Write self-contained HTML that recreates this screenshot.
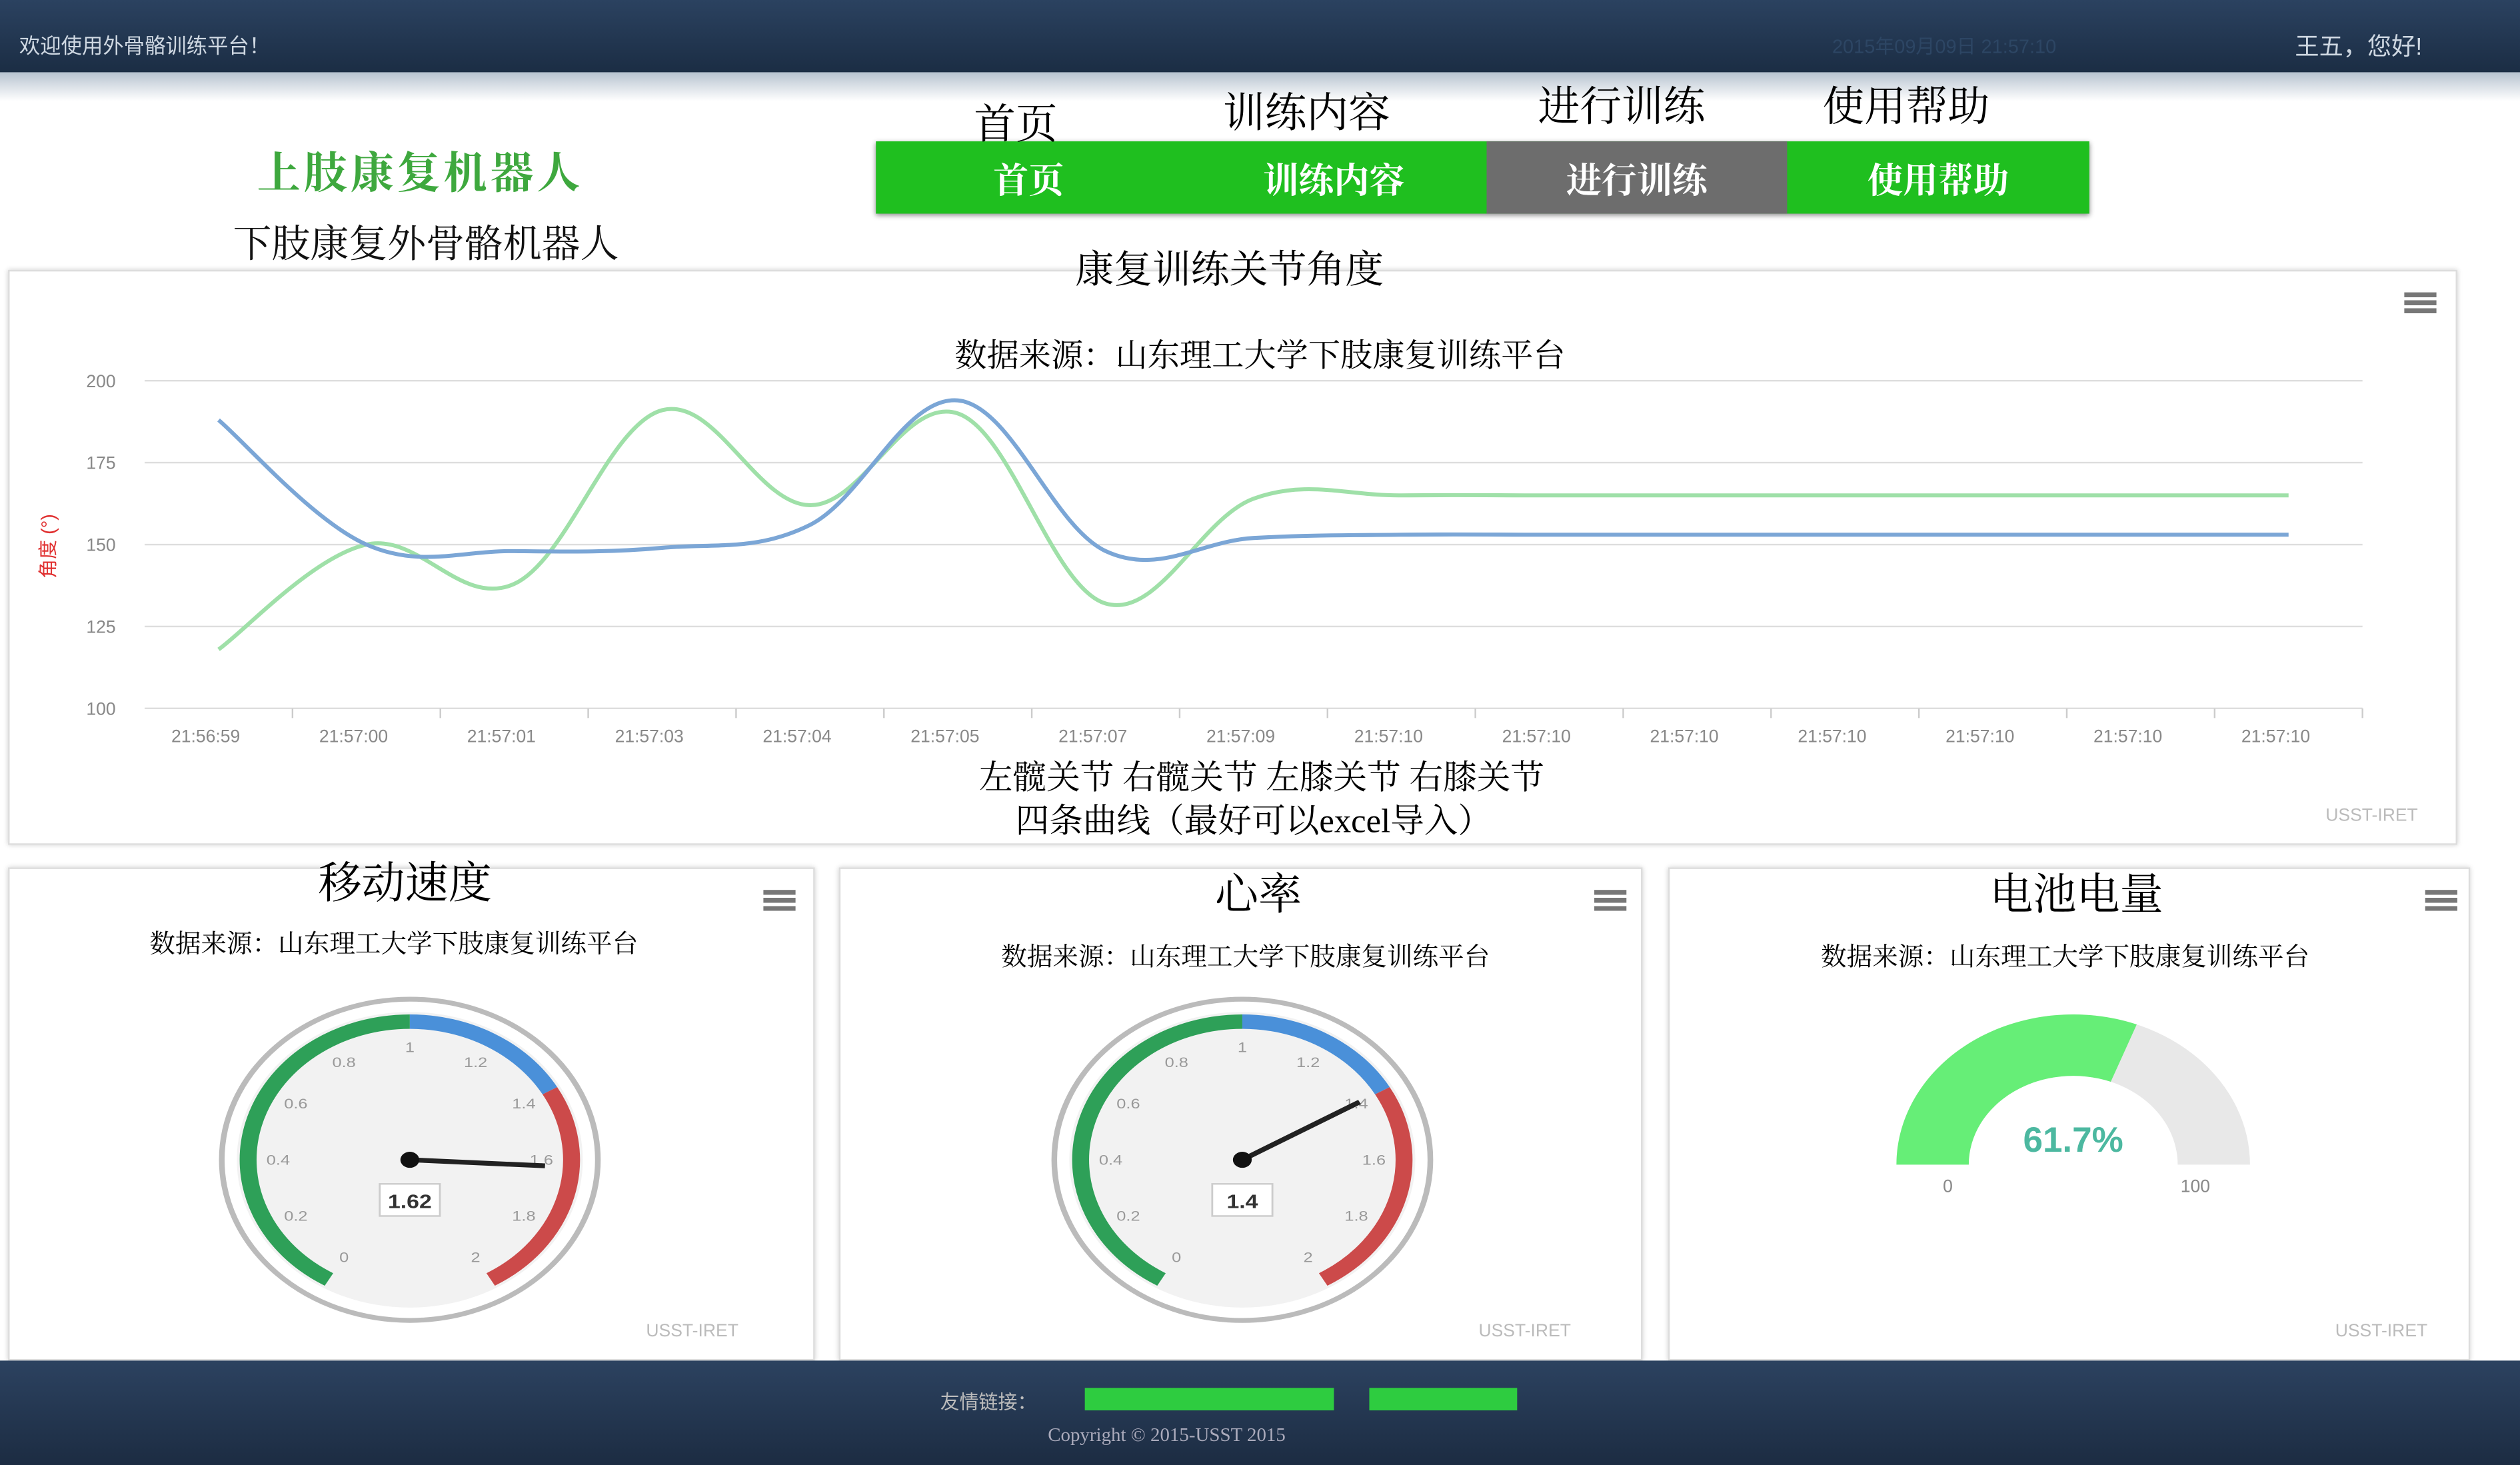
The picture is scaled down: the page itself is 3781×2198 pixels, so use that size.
<!DOCTYPE html>
<html><head><meta charset="utf-8"><style>
html,body{margin:0;padding:0;background:#fff;overflow:hidden}
body{width:3781px;height:2198px}
#w{position:absolute;left:0;top:0;width:1568px;height:912px;transform-origin:0 0;transform:scale(2.41135,2.41009);font-family:"Liberation Serif","Noto Serif CJK SC",serif}
.a{position:absolute;white-space:nowrap}
.panel{position:absolute;background:#fff;border:1px solid #ddd;box-shadow:0 0 3px #ccc}
.menu{position:absolute;width:20px;height:14px;background:repeating-linear-gradient(#777 0 3px,#fff 3px 5px)}
.cred{position:absolute;font:11px "Liberation Sans",sans-serif;color:#bbb}
</style></head><body>
<div id="w">
<div class="a" style="left:0;top:0;width:1568px;height:45px;background:linear-gradient(#2b4260,#1b2d44)"></div>
<div class="a" style="left:0;top:45px;width:1568px;height:18px;background:linear-gradient(#b7c3d0,#fff)"></div>
<div class="a" style="left:12px;top:18px;font:13px 'Liberation Sans','Noto Sans CJK SC',sans-serif;color:#cfd8e2">欢迎使用外骨骼训练平台！</div>
<div class="a" style="left:1140px;top:20px;font:12px 'Liberation Sans','Noto Sans CJK SC',sans-serif;color:#2d4664">2015年09月09日 21:57:10</div>
<div class="a" style="left:1428px;top:18px;font:15px 'Liberation Sans','Noto Sans CJK SC',sans-serif;color:#cfd8e2">王五，您好!</div>
<div class="a" style="left:160px;top:86px;font:bold 27px 'Noto Serif CJK SC',serif;color:#3ea83e;letter-spacing:2px">上肢康复机器人</div>
<div class="a" style="left:145px;top:132px;font:24px 'Liberation Serif','Noto Serif CJK SC',serif;color:#111">下肢康复外骨骼机器人</div>
<div class="a" style="left:545px;top:88px;width:755px;height:45px;background:#1fbf1f;box-shadow:0 1px 3px #888"></div>
<div class="a" style="left:925px;top:88px;width:187px;height:45px;background:#6d6d6d"></div>
<div class="a" style="left:545px;top:96px;width:190px;text-align:center;font:bold 22px 'Noto Serif CJK SC',serif;color:#fff">首页</div>
<div class="a" style="left:735px;top:96px;width:190px;text-align:center;font:bold 22px 'Noto Serif CJK SC',serif;color:#fff">训练内容</div>
<div class="a" style="left:925px;top:96px;width:187px;text-align:center;font:bold 22px 'Noto Serif CJK SC',serif;color:#fff">进行训练</div>
<div class="a" style="left:1112px;top:96px;width:188px;text-align:center;font:bold 22px 'Noto Serif CJK SC',serif;color:#fff">使用帮助</div>
<div class="a" style="left:606px;top:57px;font:26px 'Liberation Serif','Noto Serif CJK SC',serif">首页</div>
<div class="a" style="left:761px;top:50px;font:26px 'Liberation Serif','Noto Serif CJK SC',serif">训练内容</div>
<div class="a" style="left:957px;top:46px;font:26px 'Liberation Serif','Noto Serif CJK SC',serif">进行训练</div>
<div class="a" style="left:1134px;top:46px;font:26px 'Liberation Serif','Noto Serif CJK SC',serif">使用帮助</div>

<div class="panel" style="left:5px;top:168px;width:1522px;height:356px"></div>
<div class="menu" style="left:1496px;top:182px"></div>
<div class="a" style="left:0;top:148px;width:1530px;text-align:center;font:24px 'Liberation Serif','Noto Serif CJK SC',serif">康复训练关节角度</div>
<div class="a" style="left:0;top:205px;width:1568px;text-align:center;font:20px 'Liberation Serif','Noto Serif CJK SC',serif">数据来源：山东理工大学下肢康复训练平台</div>
<svg class="a" id="chart" style="left:0;top:0" width="1568" height="540"></svg>
<div class="a" style="left:0;top:468px;width:1570px;text-align:center;font:21px 'Liberation Serif','Noto Serif CJK SC',serif">左髋关节 右髋关节 左膝关节 右膝关节</div>
<div class="a" style="left:0;top:495px;width:1560px;text-align:center;font:21px 'Liberation Serif','Noto Serif CJK SC',serif">四条曲线（最好可以excel导入）</div>
<div class="cred" style="left:1447px;top:502px">USST-IRET</div>

<div class="panel" style="left:5px;top:540px;width:500px;height:305px"></div>
<div class="panel" style="left:522px;top:540px;width:498px;height:305px"></div>
<div class="panel" style="left:1038px;top:540px;width:497px;height:305px"></div>
<div class="menu" style="left:475px;top:554px"></div>
<div class="menu" style="left:992px;top:554px"></div>
<div class="menu" style="left:1509px;top:554px"></div>
<div class="a" style="left:198px;top:528px;font:27px 'Liberation Serif','Noto Serif CJK SC',serif">移动速度</div>
<div class="a" style="left:756px;top:535px;font:27px 'Liberation Serif','Noto Serif CJK SC',serif">心率</div>
<div class="a" style="left:1238px;top:535px;font:27px 'Liberation Serif','Noto Serif CJK SC',serif">电池电量</div>
<div class="a" style="left:93px;top:575px;font:16px 'Liberation Serif','Noto Serif CJK SC',serif">数据来源：山东理工大学下肢康复训练平台</div>
<div class="a" style="left:623px;top:583px;font:16px 'Liberation Serif','Noto Serif CJK SC',serif">数据来源：山东理工大学下肢康复训练平台</div>
<div class="a" style="left:1133px;top:583px;font:16px 'Liberation Serif','Noto Serif CJK SC',serif">数据来源：山东理工大学下肢康复训练平台</div>
<svg class="a" id="g" style="left:0;top:0" width="1568" height="912"></svg>
<div class="cred" style="left:402px;top:823px">USST-IRET</div>
<div class="cred" style="left:920px;top:823px">USST-IRET</div>
<div class="cred" style="left:1453px;top:823px">USST-IRET</div>

<div class="a" style="left:0;top:847px;width:1568px;height:65px;background:linear-gradient(#2c4260,#1c2c42)"></div>
<div class="a" style="left:585px;top:864px;font:12px 'Liberation Sans','Noto Sans CJK SC',sans-serif;color:#bbb">友情链接：</div>
<div class="a" style="left:675px;top:864px;width:155px;height:14px;background:#2ecc40"></div>
<div class="a" style="left:852px;top:864px;width:92px;height:14px;background:#2ecc40"></div>
<div class="a" style="left:652px;top:886px;font:12px 'Liberation Serif',serif;color:#aab">Copyright © 2015-USST 2015</div>
</div>
<script>
const NS='http://www.w3.org/2000/svg';
const categories=['21:56:59','21:57:00','21:57:01','21:57:03','21:57:04','21:57:05','21:57:07','21:57:09','21:57:10','21:57:10','21:57:10','21:57:10','21:57:10','21:57:10','21:57:10'];
const blueValues=[188,150,148,149,156,194,148,152,153,153,153,153,153,153,153];
const greenValues=[118,150,138,191,162,190,132,164,165,165,165,165,165,165,165];
const yTicks=[100,125,150,175,200];
function mk(t,at,p){const e=document.createElementNS(NS,t);for(const k in at)e.setAttribute(k,at[k]);(p||document.getElementById('chart')).appendChild(e);return e;}
const X=i=>136+i*92, Y=v=>441-(v-100)*2.04;
const c=document.getElementById('chart');
yTicks.forEach(v=>{
 const l=mk('line',{x1:90,x2:1470,y1:Y(v),y2:Y(v),stroke:'#ddd','stroke-width':1});
 
 
 const t=mk('text',{x:72,y:Y(v)+4,'text-anchor':'end','font-size':11,fill:'#888','font-family':'Liberation Sans'});
 t.textContent=v;
 
 
});
categories.forEach((s,i)=>{
 const tk=mk('line',{x1:X(i)+46,x2:X(i)+46,y1:441,y2:447,stroke:'#ccc'});
 
 
 const t=mk('text',{x:X(i)-8,y:462,'text-anchor':'middle','font-size':11,fill:'#888','font-family':'Liberation Sans'});
 t.textContent=s;
 
 
});
const yt=mk('text',{x:34,y:340,'text-anchor':'middle','font-size':12,fill:'#e03030',transform:'rotate(-90 34 340)','font-family':'Liberation Sans,Noto Sans CJK SC'});
yt.textContent='角度 (°)';


function path(vals){const p=vals.map((v,i)=>[X(i),Y(v)]);let d='M'+p[0];for(let i=0;i<p.length-1;i++){const a=p[i-1]||p[i],b=p[i],e=p[i+1],f=p[i+2]||e;const t=0.18;d+=` C${b[0]+(e[0]-a[0])*t},${b[1]+(e[1]-a[1])*t} ${e[0]-(f[0]-b[0])*t},${e[1]-(f[1]-b[1])*t} ${e[0]},${e[1]}`;}return d;}
const gl=mk('path',{d:path(greenValues),fill:'none',stroke:'#9fe0a8','stroke-width':2.5});


const bl=mk('path',{d:path(blueValues),fill:'none',stroke:'#7ba6d6','stroke-width':2.5});



// gauges
const speedValue=[1.62];
const heartValue=[1.4];
const batteryValue=[61.7];
const g=document.getElementById('g');
function gauge(cx,cy,val,name){
 const grp=mk('g',{transform:`translate(${cx},${cy}) scale(1.17,1)`},g);
 
 
 mk('circle',{r:100,fill:'#fff',stroke:'#bbb','stroke-width':3},grp);
 mk('circle',{r:92,fill:'#f2f2f2'},grp);
 const ang=v=>(-150+v*150)*Math.PI/180;
 const arc=(a,b,col)=>{const r=86;const p1=[r*Math.sin(ang(a)),-r*Math.cos(ang(a))],p2=[r*Math.sin(ang(b)),-r*Math.cos(ang(b))];mk('path',{d:`M${p1} A${r},${r} 0 ${(b-a)*150>180?1:0} 1 ${p2}`,fill:'none',stroke:col,'stroke-width':9},grp);};
 arc(0,1,'#2ea058');arc(1,1.4,'#4a90d9');arc(1.4,2,'#cc4a4a');
 [0,0.2,0.4,0.6,0.8,1,1.2,1.4,1.6,1.8,2].forEach(v=>{const a=ang(v);const t=mk('text',{x:70*Math.sin(a),y:-70*Math.cos(a)+3,'text-anchor':'middle','font-size':9,fill:'#999','font-family':'Liberation Sans'},grp);t.textContent=v;});
 const a=ang(val);
 mk('line',{x1:0,y1:0,x2:72*Math.sin(a),y2:-72*Math.cos(a),stroke:'#222','stroke-width':3},grp);
 mk('circle',{r:5,fill:'#111'},grp);
 mk('rect',{x:-16,y:15,width:32,height:20,fill:'#fff',stroke:'#ccc'},grp);
 const t=mk('text',{x:0,y:30,'text-anchor':'middle','font-size':12,'font-weight':'bold',fill:'#333','font-family':'Liberation Sans'},grp);t.textContent=val;
}
gauge(255,722,speedValue[0],'speed-gauge');
gauge(773,722,heartValue[0],'heart-gauge');
const bx=1290,by=725,R=110,r=65;
const bg=mk('path',{d:`M${bx-R},${by} A${R},${R*0.85} 0 0 1 ${bx+R},${by} L${bx+r},${by} A${r},${r*0.85} 0 0 0 ${bx-r},${by}Z`,fill:'#e8e8e8'},g);


const th=Math.PI*(1-batteryValue[0]/100);
const fg=mk('path',{d:`M${bx-R},${by} A${R},${R*0.85} 0 0 1 ${bx+R*Math.cos(th)},${by-R*0.85*Math.sin(th)} L${bx+r*Math.cos(th)},${by-r*0.85*Math.sin(th)} A${r},${r*0.85} 0 0 0 ${bx-r},${by}Z`,fill:'#66ee77'},g);


const bt=mk('text',{x:bx,y:by-8,'text-anchor':'middle','font-size':22,'font-weight':'bold',fill:'#4cb8a0','font-family':'Liberation Sans'},g);
bt.textContent=batteryValue[0]+'%';


[['0',bx-78],['100',bx+76]].forEach(([s,x])=>{const t=mk('text',{x:x,y:by+17,'text-anchor':'middle','font-size':11,fill:'#888','font-family':'Liberation Sans'},g);t.textContent=s;

});
</script>
</body></html>
